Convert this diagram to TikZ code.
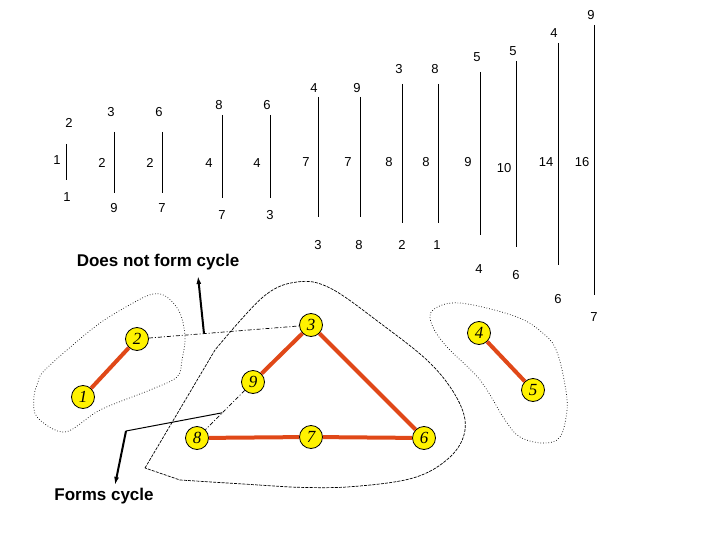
\documentclass[tikz,border=0pt]{standalone}
\usepackage{fontspec}
\setmainfont{Liberation Sans}
\newfontfamily\serifit{Liberation Serif}
\usetikzlibrary{arrows.meta,calc}
\definecolor{edgeor}{RGB}{224,72,24}
\begin{document}
\begin{tikzpicture}[x=1pt,y=-1pt,
  num/.style={inner sep=0pt,font=\fontsize{13}{13}\selectfont},
  bar/.style={line width=1pt,black},
  gnode/.style={circle,draw=black,line width=0.8pt,fill=yellow,minimum size=23pt,inner sep=0pt,font=\serifit\itshape\fontsize{17}{17}\selectfont},
  tedge/.style={line width=4pt,draw=edgeor},
  dedge/.style={line width=0.7pt,dash pattern=on 4pt off 2pt on 1pt off 2pt},
  blobdot/.style={line width=0.7pt,dotted},
  blobdash/.style={line width=0.7pt,dash pattern=on 3pt off 1.2pt},
  captxt/.style={inner sep=0pt,font=\bfseries\fontsize{17}{17}\selectfont},
  arr/.style={line width=2pt,-{Latex[length=8pt,width=5pt]}}]
\useasboundingbox (0,0) rectangle (720,540);
% sorted edge bars
\foreach \i/\x/\ya/\yb/\tl/\tx/\ty/\ml/\mx/\my/\bl/\bx/\by in {
  1/66/144/180/2/69/123/1/57/160/1/67/197,
  2/114/132/193/3/111/112/2/102/163/9/114/208,
  3/162/132/193/6/159/112/2/150/163/7/162/208,
  4/222/115/198/8/219/105/4/209/163/7/222/215,
  5/270/115/198/6/267/105/4/257/163/3/270/215,
  6/318/97/217/4/314/88/7/306/162/3/318/245,
  7/360/97/217/9/357/88/7/348/162/8/359/245,
  8/402/84/223/3/399/69/8/389/162/2/402/245,
  9/438/84/223/8/435/69/8/426/162/1/437/245,
  10/480/72/235/5/477/57/9/468/162/4/479/269,
  11/516/61/247/5/513/51/10/504/168/6/516/275,
  12/558/43/265/4/554/33/14/546/162/6/558/299,
  13/594/25/295/9/591/15/16/582/162/7/594/317}{
  \coordinate (bt\i) at (\x,\ya);
  \coordinate (bb\i) at (\x,\yb);
  \draw[bar] (bt\i) -- (bb\i);
  \node[num] (lt\i) at (\tx,\ty) {\tl};
  \node[num] (lm\i) at (\mx,\my) {\ml};
  \node[num] (lb\i) at (\bx,\by) {\bl};
}
% blobs
\draw[blobdot] plot[smooth cycle,tension=0.55] coordinates {(43,372) (67,350) (100,323) (133,303) (153,294) (167,297) (180,313) (185,337) (182,360) (177,377) (150,390) (100,410) (65,432) (37,417) (34,397) (38,382)};
\draw[blobdash] (145,468) -- plot[smooth,tension=0.6] coordinates {(215,350) (263,297) (297,282) (330,288) (380,323) (430,363) (458,400) (465,430) (450,457) (413,478) (347,487) (290,487)} -- (180,480) -- cycle;
\draw[blobdot] plot[smooth cycle,tension=0.6] coordinates {(433,310) (460,303) (517,317) (545,335) (557,352) (565,385) (567,410) (560,437) (543,443) (520,437) (505,420) (480,380) (447,347) (432,325)};
% graph nodes
\node[gnode] (g1) at (83,397) {1};
\node[gnode] (g2) at (137,339) {2};
\node[gnode] (g3) at (311,325) {3};
\node[gnode] (g4) at (479,333) {4};
\node[gnode] (g5) at (533,390) {5};
\node[gnode] (g6) at (424,438) {6};
\node[gnode] (g7) at (311,437) {7};
\node[gnode] (g8) at (197,438) {8};
\node[gnode] (g9) at (253,382) {9};
% tree edges
\draw[tedge] (g1) -- (g2);
\draw[tedge] (g9) -- (g3);
\draw[tedge] (g3) -- (g6);
\draw[tedge] (g8) -- (g7);
\draw[tedge] (g7) -- (g6);
\draw[tedge] (g4) -- (g5);
% rejected / candidate edges
\draw[dedge] (g2) -- (g3);
\draw[dedge] (g9) -- (g8);
% captions
\node[captxt] (nc) at (158,262) {Does not form cycle};
\node[captxt] (fc) at (104,496) {Forms cycle};
\coordinate (pa) at ($(g2)!0.385!(g3)$);
\coordinate (pah) at (198,276);
\draw[arr] (pa) -- (pah);
\coordinate (pb) at ($(g9)!0.55!(g8)$);
\coordinate (pbk) at (126,431);
\coordinate (pbh) at (115,485);
\draw[line width=1pt] (pb) -- (pbk);
\draw[arr] (pbk) -- (pbh);
\end{tikzpicture}
\end{document}
